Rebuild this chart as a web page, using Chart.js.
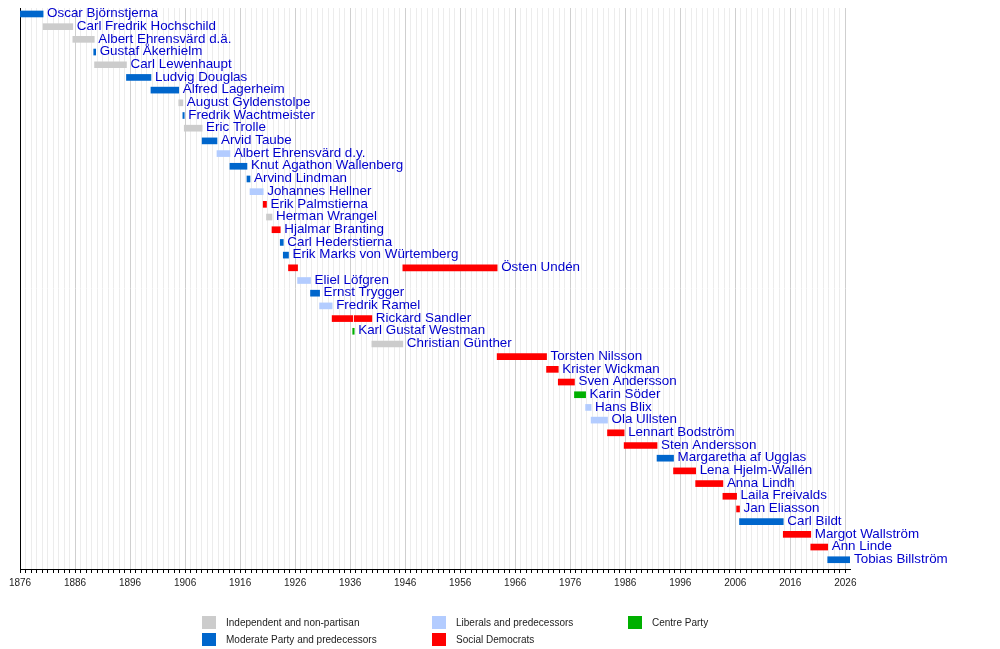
<!DOCTYPE html>
<html>
<head>
<meta charset="utf-8">
<script src="https://cdn.jsdelivr.net/npm/chart.js@4"></script>
<style>
  body { margin: 0; background: #fff; }
  #wrap { position: relative; width: 1000px; height: 649px; }
  .key { position: absolute; font: 10px "Liberation Sans", Arial, sans-serif; color: #222; white-space: nowrap; }
  .key span { position: absolute; left: 0; top: 0; width: 14px; height: 13px; }
  .key b { position: absolute; left: 24px; top: 0; line-height: 13px; font-weight: normal; }
</style>
</head>
<body>
<div id="wrap">
  <canvas id="timeline" width="1000" height="649"></canvas>
</div>
<script>
// Rows, top to bottom
const ministers = [
  'Oscar Björnstjerna', 'Carl Fredrik Hochschild', 'Albert Ehrensvärd d.ä.', 'Gustaf Åkerhielm',
  'Carl Lewenhaupt', 'Ludvig Douglas', 'Alfred Lagerheim', 'August Gyldenstolpe',
  'Fredrik Wachtmeister', 'Eric Trolle', 'Arvid Taube', 'Albert Ehrensvärd d.y.',
  'Knut Agathon Wallenberg', 'Arvind Lindman', 'Johannes Hellner', 'Erik Palmstierna',
  'Herman Wrangel', 'Hjalmar Branting', 'Carl Hederstierna', 'Erik Marks von Würtemberg',
  'Östen Undén', 'Eliel Löfgren', 'Ernst Trygger', 'Fredrik Ramel',
  'Rickard Sandler', 'Karl Gustaf Westman', 'Christian Günther', 'Torsten Nilsson',
  'Krister Wickman', 'Sven Andersson', 'Karin Söder', 'Hans Blix',
  'Ola Ullsten', 'Lennart Bodström', 'Sten Andersson', 'Margaretha af Ugglas',
  'Lena Hjelm-Wallén', 'Anna Lindh', 'Laila Freivalds', 'Jan Eliasson',
  'Carl Bildt', 'Margot Wallström', 'Ann Linde', 'Tobias Billström'
];

// Terms in office (decimal years)
const termName = [
  'Oscar Björnstjerna', 'Carl Fredrik Hochschild', 'Albert Ehrensvärd d.ä.', 'Gustaf Åkerhielm',
  'Carl Lewenhaupt', 'Ludvig Douglas', 'Alfred Lagerheim', 'August Gyldenstolpe',
  'Fredrik Wachtmeister', 'Eric Trolle', 'Arvid Taube', 'Albert Ehrensvärd d.y.',
  'Knut Agathon Wallenberg', 'Arvind Lindman', 'Johannes Hellner', 'Erik Palmstierna',
  'Herman Wrangel', 'Hjalmar Branting', 'Carl Hederstierna', 'Erik Marks von Würtemberg',
  'Östen Undén', 'Eliel Löfgren', 'Ernst Trygger', 'Fredrik Ramel',
  'Rickard Sandler', 'Karl Gustaf Westman', 'Rickard Sandler', 'Christian Günther',
  'Östen Undén', 'Torsten Nilsson', 'Krister Wickman', 'Sven Andersson',
  'Karin Söder', 'Hans Blix', 'Ola Ullsten', 'Lennart Bodström',
  'Sten Andersson', 'Margaretha af Ugglas', 'Lena Hjelm-Wallén', 'Anna Lindh',
  'Laila Freivalds', 'Jan Eliasson', 'Carl Bildt', 'Margot Wallström',
  'Ann Linde', 'Tobias Billström'
];
const termStart = [
  1876.05, 1880.2, 1885.6, 1889.4,
  1889.55, 1895.35, 1899.8, 1904.85,
  1905.6, 1905.85, 1909.1, 1911.8,
  1914.15, 1917.25, 1917.8, 1920.2,
  1920.8, 1921.8, 1923.3, 1923.85,
  1924.8, 1926.45, 1928.8, 1930.45,
  1932.73, 1936.47, 1936.74, 1939.95,
  1945.58, 1962.72, 1971.7, 1973.83,
  1976.77, 1978.8, 1979.8, 1982.78,
  1985.8, 1991.78, 1994.78, 1998.8,
  2003.75, 2006.24, 2006.77, 2014.72,
  2019.72, 2022.8
];
const termEnd = [
  1880.2, 1885.6, 1889.5, 1889.75,
  1895.35, 1899.8, 1904.85, 1905.6,
  1905.85, 1909.1, 1911.8, 1914.15,
  1917.25, 1917.8, 1920.2, 1920.8,
  1921.8, 1923.3, 1923.85, 1924.8,
  1926.45, 1928.8, 1930.45, 1932.73,
  1936.47, 1936.74, 1939.95, 1945.58,
  1962.72, 1971.7, 1973.83, 1976.77,
  1978.8, 1979.8, 1982.78, 1985.8,
  1991.78, 1994.78, 1998.8, 2003.75,
  2006.24, 2006.77, 2014.72, 2019.72,
  2022.8, 2026.85
];
const termParty = [
  'M', 'I', 'I', 'M',
  'I', 'M', 'M', 'I',
  'M', 'I', 'M', 'L',
  'M', 'M', 'L', 'S',
  'I', 'S', 'M', 'M',
  'S', 'L', 'M', 'L',
  'S', 'C', 'S', 'I',
  'S', 'S', 'S', 'S',
  'C', 'L', 'L', 'S',
  'S', 'M', 'S', 'S',
  'S', 'S', 'M', 'S',
  'S', 'M'
];

const partyCodes = ['I', 'M', 'L', 'S', 'C'];
const partyNames = [
  'Independent and non-partisan', 'Moderate Party and predecessors',
  'Liberals and predecessors', 'Social Democrats', 'Centre Party'
];
const partyColors = { I: '#cccccc', M: '#0066cc', L: '#b3ccff', S: '#ff0000', C: '#00b000' };

const yearFrom = 1876;
const yearTo = 2026.85;

const datasets = partyCodes.map((code, p) => ({
  label: partyNames[p],
  data: termName
    .map((n, i) => ({ x: [termStart[i], termEnd[i]], y: ministers.indexOf(n), party: termParty[i] }))
    .filter(d => d.party === code),
  backgroundColor: partyColors[code],
  borderWidth: 0,
  barThickness: 6,
  grouped: false
}));

// names written after the last bar of each row
const nameLabels = {
  id: 'nameLabels',
  afterDatasetsDraw(chart) {
    const { ctx, scales: { x, y } } = chart;
    ctx.save();
    ctx.font = '13.4px "Liberation Sans", Arial, sans-serif';
    ctx.fillStyle = '#0000cc';
    ctx.textBaseline = 'middle';
    ministers.forEach((name, row) => {
      let end = -Infinity;
      termName.forEach((n, i) => { if (n === name) end = Math.max(end, termEnd[i]); });
      ctx.fillText(name, x.getPixelForValue(end) + 4, y.getPixelForValue(row) - 0.5);
    });
    ctx.restore();
  }
};

new Chart(document.getElementById('timeline'), {
  type: 'bar',
  data: { datasets },
  options: {
    indexAxis: 'y',
    responsive: false,
    animation: false,
    layout: { padding: { left: 20, right: 150, top: 8, bottom: 0 } },
    plugins: { legend: { display: false }, tooltip: { enabled: false } },
    scales: {
      x: {
        type: 'linear',
        min: yearFrom,
        max: yearTo,
        afterFit(scale) { scale.height = 80; },
        border: { display: true, color: '#000', width: 1 },
        grid: {
          color: c => ((c.tick.value - yearFrom) % 10 === 0 ? '#cfcfcf' : '#ececec'),
          tickColor: '#000',
          tickLength: 4,
          drawTicks: true
        },
        ticks: {
          stepSize: 1,
          maxTicksLimit: 400,
          includeBounds: false,
          autoSkip: false,
          maxRotation: 0,
          padding: 4,
          color: '#222',
          font: { family: '"Liberation Sans", Arial, sans-serif', size: 10 },
          callback: v => ((v - yearFrom) % 10 === 0 ? String(v) : '')
        }
      },
      y: {
        type: 'linear',
        reverse: true,
        offset: false,
        min: -0.47,
        max: 43.73,
        afterFit(scale) { scale.width = 0; },
        border: { display: true, color: '#000', width: 1 },
        grid: { display: false, drawTicks: false, offset: false },
        ticks: { display: false }
      }
    }
  },
  plugins: [nameLabels]
});

// legend, three columns
const keyPos = [[202, 616], [202, 633], [432, 616], [432, 633], [628, 616]];
const wrap = document.getElementById('wrap');
partyCodes.forEach((code, p) => {
  const d = document.createElement('div');
  d.className = 'key';
  d.style.left = keyPos[p][0] + 'px';
  d.style.top = keyPos[p][1] + 'px';
  d.innerHTML = '<span style="background:' + partyColors[code] + '"></span><b></b>';
  d.querySelector('b').textContent = partyNames[p];
  wrap.appendChild(d);
});
</script>
</body>
</html>
